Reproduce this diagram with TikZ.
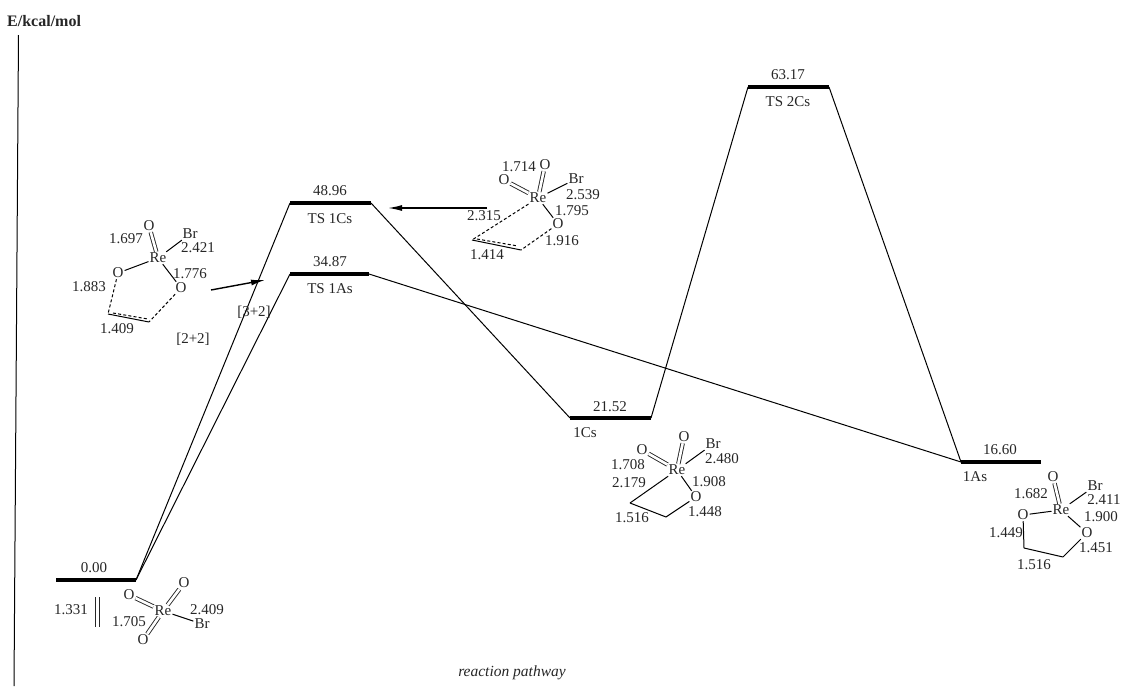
\documentclass[tikz,border=0pt]{standalone}
\usepackage{fontspec}
\setmainfont{Liberation Serif}
\usetikzlibrary{arrows.meta}
\tikzset{
  lbl/.style={inner sep=0pt,yshift=-0.7pt,font=\fontsize{15}{15}\selectfont,text=black!85},
  atom/.style={inner sep=1pt,font=\fontsize{15}{15}\selectfont,text=black!85},
  level/.style={line width=3.2pt},
  pathline/.style={line width=1pt},
  bond/.style={line width=1pt},
  dbond/.style={line width=4.4pt,black!85,postaction={draw=white,line width=2.6pt}},
  dashbond/.style={line width=1pt,dash pattern=on 3pt off 2.2pt},
  pointer/.style={line width=1.4pt,-{Latex[length=14pt,width=6pt]}}
}
\begin{document}
\begin{tikzpicture}[x=1pt,y=-1pt]
\useasboundingbox (0,0) rectangle (1135,686);
% axis
\coordinate (axT) at (18.5,35);
\coordinate (axB) at (14,686);
\draw[line width=1pt] (axT) -- (axB);
\node[lbl,font=\fontsize{16}{16}\selectfont\bfseries,anchor=west] (ylab) at (7,20) {E/kcal/mol};
\node[lbl,font=\fontsize{15.5}{15.5}\selectfont\itshape] (xlab) at (512,672) {reaction pathway};
% levels
\foreach \n/\xa/\xb/\y in {R/56/136/580,TCa/290/371/203,TAa/290/369/274,C/570/651/418,TB/748/829/87,A/961/1041/462}{
  \coordinate (\n l) at (\xa,\y);
  \coordinate (\n r) at (\xb,\y);
  \draw[level] (\n l) -- (\n r);
}
\draw[pathline] (Rr) -- (TCal);
\draw[pathline] (Rr) -- (TAal);
\draw[pathline] (TCar) -- (Cl);
\draw[pathline] (TAar) -- (Al);
\draw[pathline] (Cr) -- (TBl);
\draw[pathline] (TBr) -- (Al);
% level labels
\node[lbl] (e0) at (94,567) {0.00};
\node[lbl] (e1) at (330,190) {48.96};
\node[lbl] (e2) at (330,261) {34.87};
\node[lbl] (e3) at (610,406) {21.52};
\node[lbl] (e4) at (788,74) {63.17};
\node[lbl] (e5) at (1000,449) {16.60};
\node[lbl] (n1) at (330,218) {TS 1Cs};
\node[lbl] (n2) at (330,288) {TS 1As};
\node[lbl] (n3) at (585,432) {1Cs};
\node[lbl] (n4) at (788,101) {TS 2Cs};
\node[lbl] (n5) at (975,476) {1As};
\node[lbl] (t1) at (193,339) {[2+2]};
\node[lbl] (t2) at (254,312) {[3+2]};
% reactant
\node[atom] (rRe) at (163,611) {Re};
\node[atom] (rO1) at (129,595) {O};
\node[atom] (rO2) at (184,583) {O};
\node[atom] (rO3) at (143,640) {O};
\node[atom] (rBr) at (202,624) {Br};
\draw[dbond] (rO1) -- (rRe);
\draw[dbond] (rO2) -- (rRe);
\draw[dbond] (rO3) -- (rRe);
\draw[bond] (rRe) -- (rBr);
\node[lbl] (r1) at (71,609) {1.331};
\node[lbl] (r2) at (129,621) {1.705};
\node[lbl] (r3) at (207,609) {2.409};
\coordinate (ea) at (97.5,597);
\coordinate (eb) at (97.5,627);
\draw[line width=5.6pt,black!85,postaction={draw=white,line width=3.8pt}] (ea) -- (eb);
% TS 1As
\node[atom] (aRe) at (158,258) {Re};
\node[atom] (aO1) at (149,226) {O};
\node[atom] (aO2) at (118,273) {O};
\node[atom] (aO3) at (181,288) {O};
\node[atom] (aBr) at (190,234) {Br};
\coordinate (aC1) at (108,314);
\coordinate (aC2) at (149,322);
\coordinate (aD1) at (113,313);
\coordinate (aD2) at (148,319);
\draw[dbond] (aO1) -- (aRe);
\draw[bond] (aRe) -- (aO2);
\draw[bond] (aRe) -- (aO3);
\draw[bond] (aRe) -- (aBr);
\draw[dashbond] (aO2) -- (aC1);
\draw[dashbond] (aO3) -- (aC2);
\draw[bond] (aC1) -- (aC2);
\draw[dashbond] (aD1) -- (aD2);
\node[lbl] (a1) at (126,238) {1.697};
\node[lbl] (a2) at (198,247) {2.421};
\node[lbl] (a3) at (190,273) {1.776};
\node[lbl] (a4) at (89,286) {1.883};
\node[lbl] (a5) at (117,328) {1.409};
\coordinate (aPa) at (211,290);
\coordinate (aPb) at (265,280);
\draw[pointer] (aPa) -- (aPb);
% TS 1Cs
\node[atom] (cRe) at (538,198) {Re};
\node[atom] (cO1) at (545,165) {O};
\node[atom] (cO2) at (504,180) {O};
\node[atom] (cO3) at (558,224) {O};
\node[atom] (cBr) at (576,179) {Br};
\coordinate (cC1) at (472,240);
\coordinate (cC2) at (521,250);
\coordinate (cD1) at (477,239);
\coordinate (cD2) at (518,246);
\draw[dbond] (cO1) -- (cRe);
\draw[dbond] (cO2) -- (cRe);
\draw[bond] (cRe) -- (cO3);
\draw[bond] (cRe) -- (cBr);
\draw[dashbond] (cRe) -- (cC1);
\draw[dashbond] (cO3) -- (cC2);
\draw[bond] (cC1) -- (cC2);
\draw[dashbond] (cD1) -- (cD2);
\node[lbl] (c1) at (519,166) {1.714};
\node[lbl] (c2) at (583,194) {2.539};
\node[lbl] (c3) at (572,210) {1.795};
\node[lbl] (c4) at (562,240) {1.916};
\node[lbl] (c5) at (484,215) {2.315};
\node[lbl] (c6) at (487,254) {1.414};
\coordinate (cPa) at (487,208);
\coordinate (cPb) at (388,208);
\draw[pointer] (cPa) -- (cPb);
% 1Cs
\node[atom] (dRe) at (677,470) {Re};
\node[atom] (dO1) at (684,437) {O};
\node[atom] (dO2) at (642,450) {O};
\node[atom] (dO3) at (696,497) {O};
\node[atom] (dBr) at (713,444) {Br};
\coordinate (dC1) at (630,503);
\coordinate (dC2) at (666,517);
\draw[dbond] (dO1) -- (dRe);
\draw[dbond] (dO2) -- (dRe);
\draw[bond] (dRe) -- (dO3);
\draw[bond] (dRe) -- (dBr);
\draw[bond] (dRe) -- (dC1);
\draw[bond] (dC1) -- (dC2);
\draw[bond] (dC2) -- (dO3);
\node[lbl] (d1) at (628,464) {1.708};
\node[lbl] (d2) at (722,458) {2.480};
\node[lbl] (d3) at (629,482) {2.179};
\node[lbl] (d4) at (709,481) {1.908};
\node[lbl] (d5) at (705,511) {1.448};
\node[lbl] (d6) at (632,517) {1.516};
% 1As
\node[atom] (fRe) at (1061,510) {Re};
\node[atom] (fO1) at (1053,477) {O};
\node[atom] (fO2) at (1023,515) {O};
\node[atom] (fO3) at (1087,533) {O};
\node[atom] (fBr) at (1095,486) {Br};
\coordinate (fC1) at (1024,548);
\coordinate (fC2) at (1063,557);
\draw[dbond] (fO1) -- (fRe);
\draw[bond] (fRe) -- (fO2);
\draw[bond] (fRe) -- (fO3);
\draw[bond] (fRe) -- (fBr);
\draw[bond] (fO2) -- (fC1);
\draw[bond] (fC1) -- (fC2);
\draw[bond] (fC2) -- (fO3);
\node[lbl] (f1) at (1031,493) {1.682};
\node[lbl] (f2) at (1104,499) {2.411};
\node[lbl] (f3) at (1101,516) {1.900};
\node[lbl] (f4) at (1006,532) {1.449};
\node[lbl] (f5) at (1096,547) {1.451};
\node[lbl] (f6) at (1034,564) {1.516};
\end{tikzpicture}
\end{document}
